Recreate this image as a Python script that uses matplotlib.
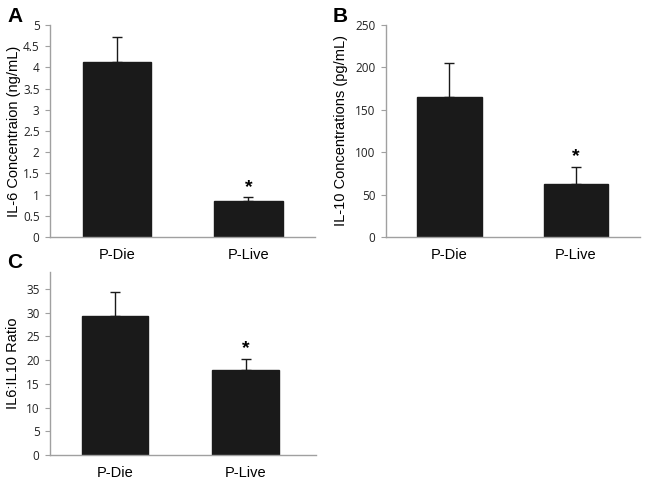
import matplotlib
matplotlib.use("Agg")
import matplotlib.pyplot as plt
from matplotlib.ticker import FuncFormatter, MultipleLocator

groups = ["P-Die", "P-Live"]
il6 = [4.12, 0.86]
il6_err = [0.60, 0.08]
il10 = [165, 62]
il10_err = [40, 21]
ratio = [29.4, 17.9]
ratio_err = [4.9, 2.4]

W, H = 645, 482
fig = plt.figure(figsize=(W / 100, H / 100), dpi=100)

def px_axes(left, right, top, bottom):
    return fig.add_axes([left / W, 1 - bottom / H, (right - left) / W, (bottom - top) / H])

def fmt(v, pos):
    return "%g" % v

def panel(ax, vals, errs, ylim, step, ylabel, xlim, width):
    x = [0, 1]
    ax.bar(x, vals, width=width, color="#1a1a1a", edgecolor="#1a1a1a", zorder=2)
    ax.errorbar(x, vals, yerr=[[0, 0], errs], fmt="none", ecolor="#1a1a1a",
                elinewidth=1.0, capsize=3.5, capthick=1.0, zorder=1)
    ax.set_xlim(*xlim)
    ax.set_ylim(*ylim)
    ax.yaxis.set_major_locator(MultipleLocator(step))
    ax.yaxis.set_major_formatter(FuncFormatter(fmt))
    ax.set_xticks(x)
    ax.set_xticklabels(groups, fontsize=10.5, family="Liberation Sans")
    ax.tick_params(axis="x", length=0, pad=8)
    ax.tick_params(axis="y", length=3.5, width=0.8, color="#a0a0a0", labelsize=8.5, pad=4)
    for lab in ax.get_yticklabels():
        lab.set_family("Open Sans")
        lab.set_color("#222222")
    for s in ["top", "right"]:
        ax.spines[s].set_visible(False)
    for s in ["left", "bottom"]:
        ax.spines[s].set_color("#a0a0a0")
        ax.spines[s].set_linewidth(1.0)
    ax.set_ylabel(ylabel, fontsize=10.5, family="Liberation Sans")
    ax.set_facecolor("none")
    top = vals[1] + errs[1]
    ax.annotate("*", xy=(1, top), xytext=(0, 1), textcoords="offset points",
                ha="center", va="bottom", fontsize=14, fontweight="bold",
                family="Liberation Sans")

axA = px_axes(50, 315, 25, 237)
panel(axA, il6, il6_err, (0, 5), 0.5, "IL-6 Concentraion (ng/mL)", (-0.51, 1.506), 0.52)
axA.yaxis.labelpad = 1

axB = px_axes(386, 640, 25, 237)
panel(axB, il10, il10_err, (0, 250), 50, "IL-10 Concentrations (pg/mL)", (-0.50, 1.506), 0.51)
axB.yaxis.labelpad = 5

axC = px_axes(50, 316, 272, 455)
panel(axC, ratio, ratio_err, (0, 38.6), 5, "IL6:IL10 Ratio", (-0.50, 1.54), 0.51)
axC.set_yticks([0, 5, 10, 15, 20, 25, 30, 35])
axC.yaxis.labelpad = 4

for lbl, x, y in [("A", 7, 22), ("B", 333, 22), ("C", 7, 268)]:
    fig.text(x / W, 1 - y / H, lbl, fontsize=15, fontweight="bold",
             family="Liberation Sans", ha="left", va="baseline")

fig.savefig("out.png", dpi=100)
